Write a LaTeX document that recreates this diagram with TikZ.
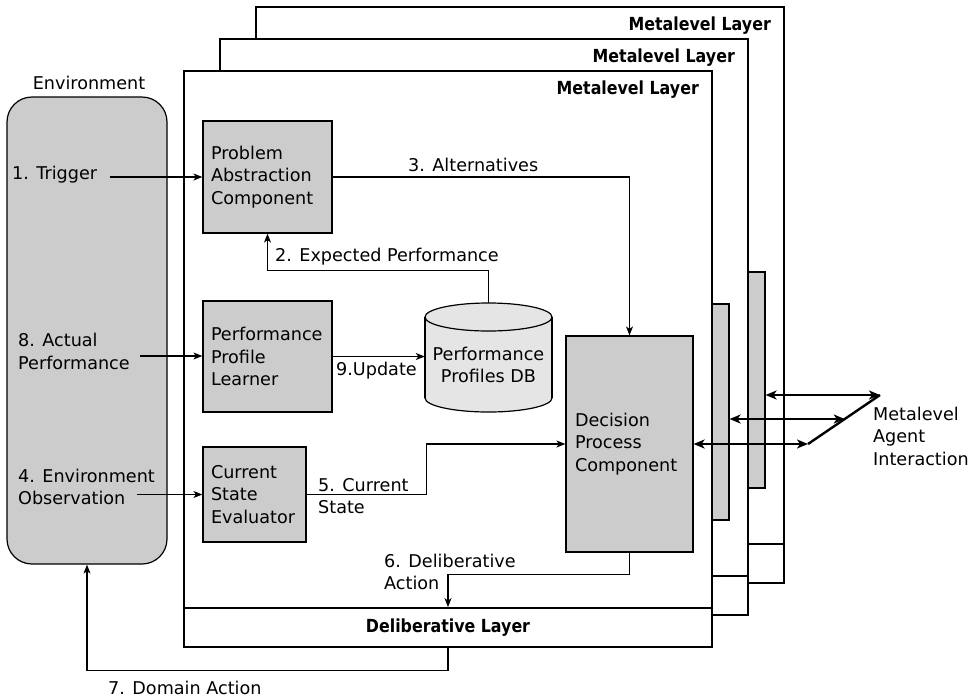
\documentclass[tikz,border=0pt]{standalone}
\usepackage{fontspec}
\setmainfont{DejaVu Sans}
\newfontfamily\layerfont[FakeStretch=0.88]{DejaVu Sans}
\usetikzlibrary{arrows.meta,calc}
\definecolor{boxgray}{gray}{0.8}
\definecolor{dbgray}{gray}{0.9}

\begin{document}
\begin{tikzpicture}[x=1pt,y=-1pt,
  font=\fontsize{17.6}{22.5}\selectfont,
  compbox/.style={draw, fill=boxgray, line width=1.2pt, inner sep=0pt, align=left},
  layerframe/.style={draw, fill=white, line width=1.8pt, inner sep=0pt},
  layertitle/.style={font=\layerfont\bfseries\fontsize{18}{20}\selectfont, anchor=east, inner sep=0pt},
  arr/.style={line width=1.1pt, -{Stealth[length=9pt,width=7pt,inset=2.5pt]}},
  metaarr/.style={line width=2.4pt, {Stealth[length=11pt,width=9pt,inset=3pt]}-{Stealth[length=11pt,width=9pt,inset=3pt]}},
  lbl/.style={inner sep=0pt, anchor=west, align=left}]
\useasboundingbox (0,0) rectangle (970,697);

% ---------- environment ----------
\node[draw, fill=boxgray, line width=1.2pt, rounded corners=25pt,
      minimum width=160pt, minimum height=467pt] (env) at (87,330.5) {};
\node (envtitle) at (89,83) {Environment};
\node[lbl] (trig) at (12,175) {1. Trigger};
\node[lbl] (act) at (18,351.5) {8. Actual\\Performance};
\node[lbl] (obs) at (18,487) {4. Environment\\Observation};

% ---------- back metalevel layer ----------
\begin{scope}[shift={(72,-64)}]
  \node[layerframe, minimum width=528pt, minimum height=537pt] (meta3) at (448,339.5) {};
  \node[layerframe, minimum width=528pt, minimum height=39pt] (delib3) at (448,627.5) {};
  \node[layertitle] (title3) at (699,90) {Metalevel Layer};
  \node[compbox, minimum width=127pt, minimum height=216pt] (dec3) at (629.5,444) {};
\end{scope}

% ---------- middle metalevel layer ----------
\begin{scope}[shift={(36,-32)}]
  \node[layerframe, minimum width=528pt, minimum height=537pt] (meta2) at (448,339.5) {};
  \node[layerframe, minimum width=528pt, minimum height=39pt] (delib2) at (448,627.5) {};
  \node[layertitle] (title2) at (699,90) {Metalevel Layer};
  \node[compbox, minimum width=127pt, minimum height=216pt] (dec2) at (629.5,444) {};
\end{scope}

% ---------- front layer ----------
\node[layerframe, minimum width=528pt, minimum height=537pt] (meta1) at (448,339.5) {};
\node[layerframe, minimum width=528pt, minimum height=39pt,
      font=\layerfont\bfseries\fontsize{18}{20}\selectfont] (delib1) at (448,627.5) {Deliberative Layer};
\node[layertitle] (title1) at (699,90) {Metalevel Layer};

\node[compbox, minimum width=129pt, minimum height=112pt, text width=113pt] (prob) at (267.5,177)
  {Problem\\Abstraction\\Component};
\node[compbox, minimum width=129pt, minimum height=111pt, text width=113pt] (learn) at (267.5,356.5)
  {Performance\\Profile\\Learner};
\node[compbox, minimum width=103pt, minimum height=95pt, text width=87pt] (eval) at (254.5,494.5)
  {Current\\State\\Evaluator};
\node[compbox, minimum width=127pt, minimum height=216pt, text width=109pt] (dec1) at (629.5,444)
  {Decision\\Process\\Component};

% performance profiles database
\draw[fill=dbgray, line width=1.2pt] (488.5,398) ellipse [x radius=63.5pt, y radius=14pt];
\fill[dbgray] (425,317) rectangle (552,398);
\draw[line width=1.2pt] (425,317) -- (425,398) (552,317) -- (552,398);
\draw[fill=dbgray, line width=1.2pt] (488.5,317) ellipse [x radius=63.5pt, y radius=14pt];
\node[inner sep=0pt, align=center, minimum width=127pt, minimum height=124pt] (db) at (488.5,365)
  {Performance\\Profiles DB};

% ---------- connectors ----------
\coordinate (s1) at (110,177);
\coordinate (s8) at (140,356);
\coordinate (s4) at (137,494.5);
\draw[arr] (s1) -- (s1 -| prob.west);
\draw[arr] (s8) -- (s8 -| learn.west);
\draw[arr] (s4) -- (s4 -| eval.west);

\draw[arr] (prob.east) -| (dec1.north);
\node[lbl] (l3) at (408,165) {3. Alternatives};

\draw[arr] (db.north) -- ++(0,-32) -| (prob.south);
\node[lbl] (l2) at (275,257) {2. Expected Performance};

\draw[arr] (learn.east) -- (learn.east -| db.west);
\node[lbl] (l9) at (336,371) {9.Update};

\draw[arr] (eval.east) -- ($(eval.east)+(120,0)$) |- (dec1.west);
\node[lbl] (l5) at (318,496) {5. Current\\State};

\draw[arr] (dec1.south) -- ++(0,22) -| (delib1.north);
\node[lbl] (l6) at (384,572) {6. Deliberative\\Action};

\draw[arr] (delib1.south) -- ++(0,23) -| (env.south);
\node[lbl] (l7) at (108,688) {7. Domain Action};

% ---------- metalevel agent interaction ----------
\coordinate (m1) at (808,444);
\coordinate (m3) at (880,395);
\coordinate (m2) at ($(m1)!0.51!(m3)$);
\draw[line width=2.4pt] (m1) -- (m3);
\draw[metaarr] (dec1.east) -- (m1);
\draw[metaarr] (dec2.east |- m2) -- (m2);
\draw[metaarr] (dec3.east |- m3) -- (m3);
\node[lbl] (lmeta) at (873,436) {Metalevel\\Agent\\Interaction};
\end{tikzpicture}
\end{document}
